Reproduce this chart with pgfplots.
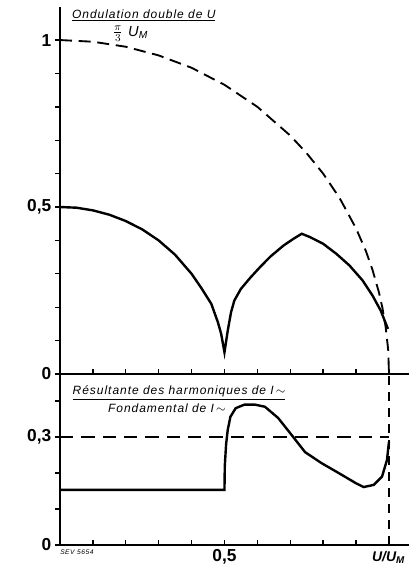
\documentclass[border=0pt]{standalone}
\usepackage{pgfplots}
\pgfplotsset{compat=1.18}
\usepackage{fontspec}
\setmainfont{Liberation Sans}
\newfontfamily\hand[LetterSpace=8]{Liberation Sans}

\begin{document}
\begin{tikzpicture}
\pgfplotsset{
  every axis/.append style={
    scale only axis,
    width=261.75pt,
    xmin=0, xmax=1.061,
    axis lines=left,
    axis line style={-, line width=1.3pt},
    tick align=inside,
    tick style={black, line width=1pt},
    major tick length=3.5pt,
    minor tick length=3.5pt,
    every y tick/.append style={xshift=-3.5pt},
    yticklabel style={font=\bfseries\fontsize{13}{13}\selectfont, xshift=-3pt},
    xticklabel style={font=\bfseries\fontsize{13}{13}\selectfont},
    clip=false,
  },
}

% lower panel
\begin{axis}[
  height=128.25pt,
  ymin=0, ymax=0.475,
  ytick={0,0.3}, yticklabels={0,{0,3}},
  minor ytick={0.1,0.2,0.4},
  xtick={0.5,1}, xticklabels={{0,5},{}},
  minor xtick={0.1,0.2,0.3,0.4,0.6,0.7,0.8,0.9},
]
\addplot[black, line width=1.8pt] coordinates {
  (0,0.153)(0.5,0.153)(0.501,0.22)(0.505,0.28)(0.51,0.32)(0.518,0.356)
  (0.534,0.38)(0.561,0.39)(0.592,0.39)(0.623,0.384)(0.663,0.353)
  (0.709,0.3)(0.745,0.258)(0.794,0.228)(0.847,0.2)(0.899,0.172)
  (0.923,0.161)(0.954,0.167)(0.979,0.19)(0.994,0.236)(1,0.286)
};
\addplot[black, line width=1.4pt, dash pattern=on 10pt off 6pt] coordinates {
  (0,0.3)(1,0.3)
};
\addplot[black, line width=1.2pt, dash pattern=on 7pt off 5pt] coordinates {
  (1,0)(1,0.475)
};
\node[anchor=base, inner sep=0, font=\hand\itshape\fontsize{9}{10}\selectfont]
  at (axis cs:0.362,0.417) {\underline{Résultante des harmoniques de I\,$\sim$}};
\node[anchor=base, inner sep=0, font=\hand\itshape\fontsize{9}{10}\selectfont]
  at (axis cs:0.325,0.369) {Fondamental de I\,$\sim$};
\node[anchor=west, inner sep=0, font=\hand\itshape\fontsize{5}{6}\selectfont]
  at (axis cs:0.0,-0.02) {SEV 5654};
\node[anchor=west, inner sep=0, font=\bfseries\itshape\fontsize{10.5}{11}\selectfont]
  at (axis cs:0.948,-0.035) {U/U\textsubscript{M}};
\end{axis}

% upper panel
\begin{axis}[
  at={(0pt,128.25pt)},
  height=275.5pt,
  ymin=0, ymax=1.1,
  ytick={0,0.5,1}, yticklabels={0,{0,5},1},
  minor ytick={0.1,0.2,0.3,0.4,0.6,0.7,0.8,0.9},
  xtick={0.1,0.2,0.3,0.4,0.5,0.6,0.7,0.8,0.9,1}, xticklabels={},
]
\addplot[black, line width=1.4pt, dash pattern=on 9pt off 5pt] coordinates {
  (0,1)(0.1,0.995)(0.2,0.98)(0.3,0.954)(0.4,0.917)(0.5,0.866)
  (0.6,0.8)(0.7,0.714)(0.75,0.661)(0.8,0.6)(0.85,0.527)(0.9,0.436)
  (0.93,0.368)(0.95,0.312)(0.97,0.243)(0.98,0.199)(0.99,0.141)
  (0.998,0.07)(1,0)
};
\addplot[black, line width=1.8pt] coordinates {
  (0,0.5)(0.05,0.498)(0.1,0.49)(0.15,0.477)(0.2,0.458)(0.25,0.433)
  (0.3,0.4)(0.35,0.357)(0.4,0.3)(0.43,0.257)(0.46,0.21)(0.48,0.155)
  (0.49,0.12)(0.5,0.065)
  (0.51,0.13)(0.52,0.185)(0.53,0.22)(0.55,0.255)(0.58,0.29)(0.61,0.322)
  (0.64,0.352)(0.68,0.385)(0.71,0.405)(0.735,0.42)(0.76,0.41)(0.8,0.39)
  (0.84,0.36)(0.88,0.325)(0.92,0.28)(0.95,0.235)(0.975,0.19)(0.997,0.135)
};
\node[anchor=base west, inner sep=0, font=\hand\itshape\fontsize{9}{10}\selectfont]
  at (axis cs:0.036,1.066) {\underline{Ondulation double de U}};
\node[anchor=base west, inner sep=0, font=\hand\itshape\fontsize{11}{12}\selectfont]
  at (axis cs:0.16,1.012) {$\frac{\pi}{3}$ U\textsubscript{M}};
\end{axis}

\pgfresetboundingbox
\path (-45pt,-16.5pt) rectangle (261.75pt,408.75pt);
\end{tikzpicture}
\end{document}
